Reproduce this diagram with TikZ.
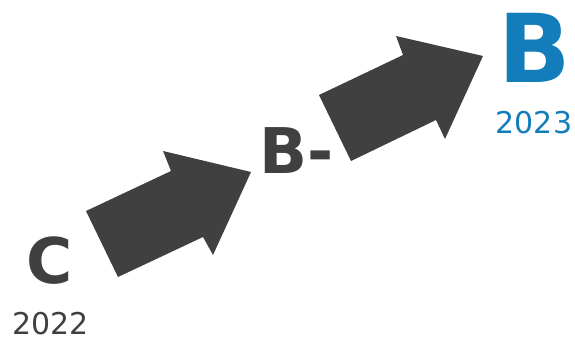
\documentclass[tikz,border=0pt]{standalone}
\usepackage{fontspec}
\setmainfont{DejaVu Sans}
\usepackage{tikz}
\usetikzlibrary{positioning}
\definecolor{ink}{HTML}{404040}
\definecolor{blue}{HTML}{137DBB}

\begin{document}
\begin{tikzpicture}[x=1pt,y=-1pt,
    grade/.style={inner sep=0pt,anchor=base,font=\bfseries\fontsize{63}{63}\selectfont},
    year/.style={inner sep=0pt,anchor=base,font=\fontsize{30}{30}\selectfont}]
        \useasboundingbox (0,0) rectangle (575,340);
        \node[grade,ink] (c) at (50,283) {C};
        \node[year,ink] (y1) at (50.5,334) {2022};
        \node[grade,ink] (bm) at (297,173) {B-};
        \node[grade,blue,font=\bfseries\fontsize{95}{95}\selectfont] (b) at (535,82) {B};
        \node[year,blue] (y2) at (534,133) {2023};
        \fill[ink] (86,211) -- (171,171) -- (163,151) -- (251,172) -- (213,255) -- (203,237) -- (118,277) -- cycle;
        \fill[ink] (319,95) -- (403,55) -- (396,36) -- (483,56) -- (445,139) -- (436,120) -- (351,161) -- cycle;
      \end{tikzpicture}
\end{document}
